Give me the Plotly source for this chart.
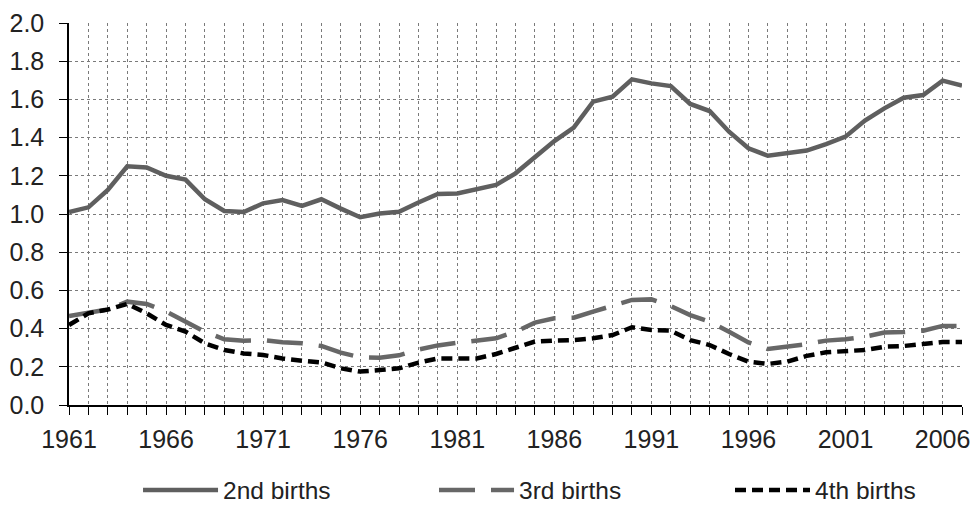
import plotly.graph_objects as go

years = list(range(1961, 2008))

second_births = [1.01, 1.035, 1.126, 1.25, 1.244, 1.20, 1.18, 1.077, 1.016, 1.01,
                 1.056, 1.073, 1.042, 1.077, 1.028, 0.983, 1.003, 1.012, 1.06, 1.105,
                 1.107, 1.13, 1.152, 1.213, 1.30, 1.382, 1.452, 1.588, 1.614, 1.705,
                 1.684, 1.67, 1.576, 1.539, 1.431, 1.344, 1.305, 1.321, 1.332, 1.366,
                 1.405, 1.489, 1.553, 1.609, 1.623, 1.698, 1.672]

third_births = [0.466, 0.485, 0.50, 0.541, 0.529, 0.489, 0.436, 0.384, 0.344, 0.337,
                0.34, 0.328, 0.323, 0.309, 0.274, 0.25, 0.248, 0.26, 0.29, 0.312,
                0.326, 0.337, 0.349, 0.384, 0.431, 0.454, 0.457, 0.489, 0.518, 0.55,
                0.553, 0.518, 0.471, 0.436, 0.384, 0.328, 0.293, 0.305, 0.319, 0.337,
                0.344, 0.358, 0.379, 0.382, 0.389, 0.414, 0.414]

fourth_births = [0.419, 0.48, 0.50, 0.529, 0.48, 0.419, 0.384, 0.323, 0.288, 0.27,
                 0.262, 0.244, 0.232, 0.223, 0.192, 0.175, 0.183, 0.192, 0.222, 0.244,
                 0.244, 0.244, 0.267, 0.297, 0.332, 0.337, 0.34, 0.349, 0.366, 0.407,
                 0.393, 0.389, 0.34, 0.314, 0.267, 0.227, 0.215, 0.227, 0.257, 0.276,
                 0.284, 0.288, 0.305, 0.309, 0.319, 0.33, 0.33]

series_names = ["2nd births", "3rd births", "4th births"]

FONT = "Liberation Sans, Arial, sans-serif"
TXT = "#222222"
FS = 25

fig = go.Figure()
fig.add_trace(go.Scatter(x=years, y=second_births, mode="lines", name=series_names[0],
                         line=dict(color="#5f5f5f", width=4.5)))
fig.add_trace(go.Scatter(x=years, y=third_births, mode="lines", name=series_names[1],
                         line=dict(color="#676767", width=4.5, dash="36px,16px")))
fig.add_trace(go.Scatter(x=years, y=fourth_births, mode="lines", name=series_names[2],
                         line=dict(color="#000000", width=4.5, dash="11px,6px")))

grid = dict(showgrid=True, gridcolor="#7a7a7a", gridwidth=1, griddash="dot")

fig.update_layout(
    width=974, height=505,
    margin=dict(l=69, r=12, t=23, b=100, autoexpand=False),
    paper_bgcolor="white", plot_bgcolor="white",
    font=dict(family=FONT, size=FS, color=TXT),
    showlegend=True,
    legend=dict(orientation="h", x=0.0773, xanchor="left", y=-0.2225, yanchor="middle",
                font=dict(family=FONT, size=24.5, color=TXT),
                itemwidth=75, entrywidth=206, entrywidthmode="pixels",
                bgcolor="rgba(0,0,0,0)"),
    xaxis=dict(range=[1961, 2007], tick0=1961, dtick=5, ticks="outside", ticklen=8,
               tickcolor="#000", showline=True, linecolor="#000", linewidth=1.5,
               zeroline=False, tickfont=dict(family=FONT, size=FS, color=TXT),
               ticklabelstandoff=3,
               minor=dict(dtick=1, tick0=1961, ticks="outside", ticklen=8, tickcolor="#000",
                          showgrid=True, gridcolor="#7a7a7a", gridwidth=1, griddash="dot"),
               **grid),
    yaxis=dict(range=[0, 2.0], dtick=0.2, tickformat=".1f", ticks="outside", ticklen=8,
               tickcolor="#000", showline=True, linecolor="#000", linewidth=1.5,
               zeroline=False, tickfont=dict(family=FONT, size=FS, color=TXT),
               ticklabelstandoff=10, **grid),
)

fig.write_html("out.html", config={"displayModeBar": False},
               post_script="document.body.style.margin='0px';document.documentElement.style.overflow='hidden';")
